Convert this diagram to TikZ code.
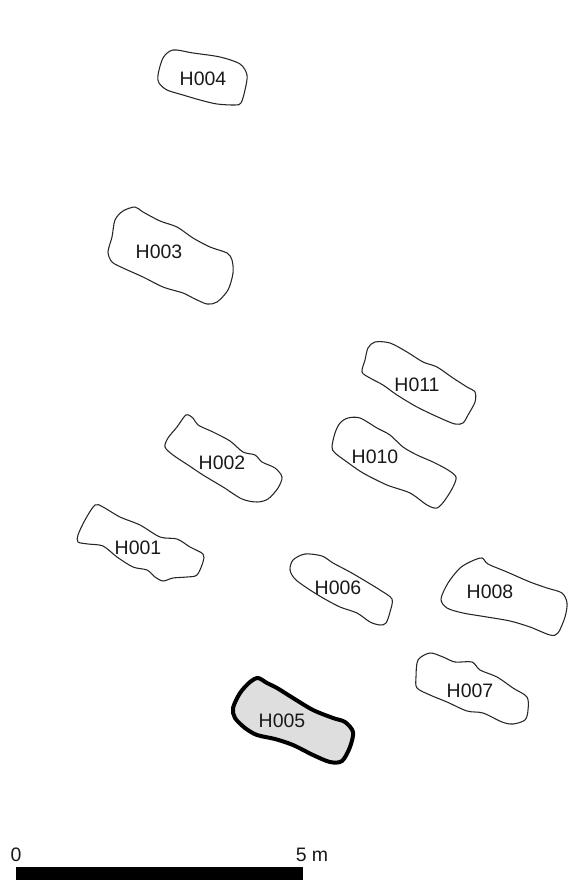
\documentclass[tikz,border=0pt]{standalone}
\usepackage{fontspec}
\setmainfont{Liberation Sans}
\begin{document}
\begin{tikzpicture}[x=0.75pt,y=-0.75pt,semithick]
\tikzstyle{grave}=[draw=black!85,line width=0.8pt,smooth cycle,tension=0.5]
\tikzstyle{opened}=[draw=black,fill=black!13,line width=3pt,smooth cycle,tension=0.5]
\tikzstyle{tag}=[font=\fontsize{14.6}{16}\selectfont,text=black!90,inner sep=0pt]
\useasboundingbox (0,0) rectangle (569,880);
\draw[grave] plot coordinates {(173,50) (193,53) (220,57) (240,64) (247,75) (245,90) (241,103) (235,105) (217,104) (200,100) (183,95) (167,90) (159,83) (158,75) (163,58)};
\draw[grave] plot coordinates {(135,207) (143,212) (160,221) (177,227) (193,238) (210,247) (227,253) (232,260) (233,273) (228,290) (217,302) (207,304) (193,298) (183,293) (163,287) (143,277) (123,268) (112,262) (108,252) (112,237) (115,220) (123,211)};
\draw[grave] plot coordinates {(186,415) (193,418) (198,425) (213,432) (230,441) (243,452) (255,455) (262,462) (275,468) (282,477) (278,488) (268,499) (257,502) (242,499) (223,487) (203,475) (188,465) (173,455) (165,447) (168,438) (177,427)};
\draw[grave] plot coordinates {(95,505) (103,507) (120,517) (140,525) (160,537) (177,539) (190,547) (203,554) (203,562) (197,575) (187,577) (173,578) (163,581) (155,577) (147,570) (133,567) (117,557) (103,546) (88,544) (78,542) (78,535) (85,520)};
\draw[grave] plot coordinates {(375,342) (390,343) (407,352) (423,362) (437,367) (453,378) (467,387) (475,392) (475,402) (468,415) (463,423) (455,424) (440,418) (417,407) (397,395) (383,385) (370,378) (362,372) (365,360) (368,348)};
\draw[grave] plot coordinates {(348,418) (360,418) (377,428) (390,435) (403,447) (417,455) (433,462) (448,470) (456,477) (453,487) (445,500) (437,508) (427,505) (410,493) (387,485) (363,473) (347,462) (335,453) (332,447) (335,433) (340,423)};
\draw[grave] plot coordinates {(305,554) (322,556) (333,563) (350,572) (367,582) (380,590) (392,599) (390,612) (386,623) (380,625) (370,622) (357,613) (340,607) (323,598) (307,588) (295,579) (290,570) (293,560)};
\draw[grave] plot coordinates {(482,558) (488,564) (507,572) (530,582) (547,588) (562,593) (567,603) (565,617) (558,633) (550,635) (530,627) (510,621) (487,617) (463,613) (447,608) (441,599) (448,583) (460,568) (472,561)};
\draw[grave] plot coordinates {(430,653) (443,657) (455,662) (472,662) (480,670) (497,677) (513,688) (527,697) (528,710) (525,720) (513,724) (502,722) (483,713) (467,711) (447,702) (430,695) (417,688) (416,677) (418,660)};
\draw[opened] plot coordinates {(258,678) (267,683) (277,688) (293,698) (313,710) (333,718) (345,722) (353,732) (350,747) (342,761) (330,762) (313,755) (293,745) (275,739) (257,735) (245,728) (235,718) (233,708) (240,693) (250,682)};
\node[tag] (H004) at (203,78.5) {H004};
\node[tag] (H003) at (159,251.5) {H003};
\node[tag] (H002) at (222,462.5) {H002};
\node[tag] (H001) at (138,547.5) {H001};
\node[tag] (H011) at (417,384.5) {H011};
\node[tag] (H010) at (375,456.5) {H010};
\node[tag] (H006) at (338,587.5) {H006};
\node[tag] (H008) at (490,591.5) {H008};
\node[tag] (H007) at (470,690.5) {H007};
\node[tag] (H005) at (282,720.5) {H005};
\fill[black] (15.5,867) rectangle (303,880);
\node[tag] (zero) at (16,855) {0};
\node[tag] (five) at (312,855) {5 m};
\end{tikzpicture}
\end{document}
